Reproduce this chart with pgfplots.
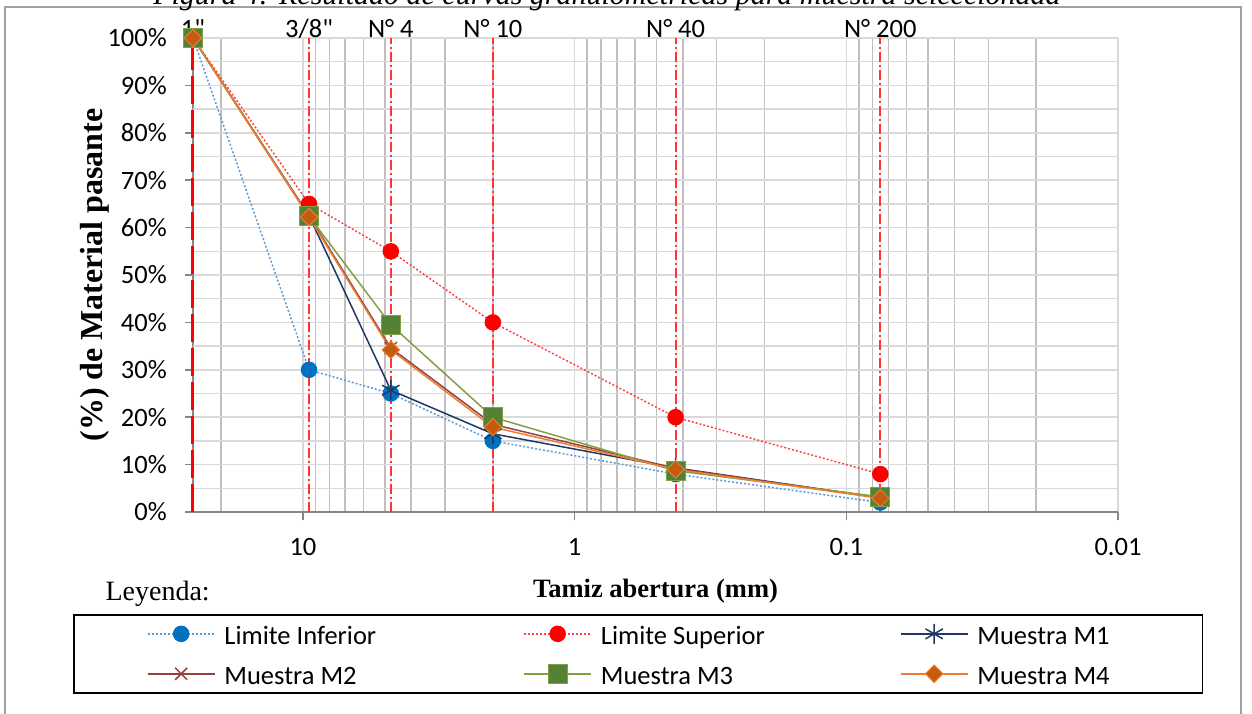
\documentclass[border=0pt]{standalone}
\usepackage{pgfplots}
\pgfplotsset{compat=1.18}
\usepackage{fontspec}
\setmainfont{Carlito}
\newfontfamily\calp{Carlito}
\newfontfamily\tnr{Liberation Serif}

\definecolor{gridlt}{RGB}{217,217,217}
\definecolor{gridmd}{RGB}{191,191,191}
\definecolor{axgray}{RGB}{134,134,134}
\definecolor{framegray}{RGB}{160,160,160}
\definecolor{infline}{RGB}{91,155,213}
\definecolor{infmark}{RGB}{0,112,192}
\definecolor{supline}{RGB}{255,70,70}
\definecolor{m1col}{RGB}{32,56,100}
\definecolor{m2col}{RGB}{150,64,64}
\definecolor{m3line}{RGB}{130,160,70}
\definecolor{m3fill}{RGB}{84,130,53}
\definecolor{m4line}{RGB}{237,125,49}
\definecolor{m4fill}{RGB}{197,90,17}

\newcommand\fs{\fontsize{26.5pt}{32pt}\selectfont}

\begin{document}
\begin{tikzpicture}
\useasboundingbox (0pt,-713pt) rectangle (1252pt,0pt);

% outer frame and clipped caption
\draw[framegray, line width=1.5pt] (5pt,-730pt) -- (5pt,-7pt) -- (1241pt,-7pt) -- (1241pt,-730pt);
\node[font=\tnr\itshape\fontsize{30pt}{36pt}\selectfont, anchor=base] at (607pt,-4pt)
  {Figura 4: Resultado de curvas granulométricas para muestra seleccionada};

\begin{axis}[
  at={(193pt,-512pt)}, anchor=south west,
  scale only axis, width=925pt, height=474pt,
  xmode=log, x dir=reverse,
  xmin=0.01, xmax=25.4, ymin=0, ymax=100,
  axis x line*=bottom, axis y line*=left,
  axis line style={draw=axgray, line width=1.5pt},
  xtick={0.01,0.1,1,10}, xticklabels={0.01,0.1,1,10},
  minor xtick={0.02,0.03,0.04,0.05,0.06,0.07,0.08,0.09,0.2,0.3,0.4,0.5,0.6,0.7,0.8,0.9,2,3,4,5,6,7,8,9,20},
  ytick={0,10,...,100},
  yticklabels={0\%,10\%,20\%,30\%,40\%,50\%,60\%,70\%,80\%,90\%,100\%},
  extra y ticks={5,15,...,95}, extra y tick labels={},
  extra y tick style={major tick length=0pt, grid=major},
  grid=both,
  major grid style={draw=gridlt, line width=1.5pt},
  minor grid style={draw=gridmd, line width=1.5pt},
  tick align=outside, major tick length=8pt, minor tick length=0pt,
  tick style={draw=axgray, line width=1.5pt},
  ticklabel style={font=\fs, inner sep=0pt},
  xticklabel style={yshift=-18pt},
  yticklabel style={xshift=-18pt},
  xlabel={Tamiz abertura (mm)},
  xlabel style={font=\tnr\bfseries\fs, at={(axis description cs:0.5,-0.1814)}, anchor=base},
  ylabel={(\%) de Material pasante},
  ylabel style={font=\tnr\bfseries\fontsize{32pt}{38pt}\selectfont, at={(axis description cs:-0.1059,0.5)}, anchor=center},
  clip=false,
  legend columns=3,
  legend cell align=left,
  legend image code/.code={\draw[mark repeat=2,mark phase=2,#1] plot coordinates {(0pt,0pt) (33.5pt,0pt) (67pt,0pt)};},
  legend style={at={(axis description cs:-0.1297,-0.2152)}, anchor=north west,
    draw=black, line width=1.8pt, font=\fs,
    inner xsep=73pt, inner ysep=7pt, row sep=16pt,
    nodes={inner sep=0pt},
    /tikz/every odd column/.append style={column sep=9pt},
    /tikz/every even column/.append style={column sep=129pt}},
]

% sieve lines
\addplot[red, line width=3pt, dash pattern=on 28pt off 6pt, forget plot] coordinates {(25.4,0) (25.4,100)};
\addplot[red!80, line width=2pt, dash pattern=on 10pt off 3pt on 2pt off 3pt, forget plot] coordinates {(9.5,0) (9.5,100)};
\addplot[red!80, line width=2pt, dash pattern=on 10pt off 3pt on 2pt off 3pt, forget plot] coordinates {(4.75,0) (4.75,100)};
\addplot[red!80, line width=2pt, dash pattern=on 10pt off 3pt on 2pt off 3pt, forget plot] coordinates {(2,0) (2,100)};
\addplot[red!80, line width=2pt, dash pattern=on 10pt off 3pt on 2pt off 3pt, forget plot] coordinates {(0.425,0) (0.425,100)};
\addplot[red!80, line width=2pt, dash pattern=on 10pt off 3pt on 2pt off 3pt, forget plot] coordinates {(0.075,0) (0.075,100)};

\node[font=\calp\fs, anchor=base, yshift=1pt] at (axis cs:25.4,100) {1"};
\node[font=\calp\fs, anchor=base, yshift=1pt] at (axis cs:9.5,100) {3/8"};
\node[font=\fs, anchor=base, yshift=1pt] at (axis cs:4.75,100) {N° 4};
\node[font=\fs, anchor=base, yshift=1pt] at (axis cs:2,100) {N° 10};
\node[font=\fs, anchor=base, yshift=1pt] at (axis cs:0.425,100) {N° 40};
\node[font=\fs, anchor=base, yshift=1pt] at (axis cs:0.075,100) {N° 200};

\addplot[infline, line width=1.5pt, dash pattern=on 2pt off 2pt, mark=*, mark size=7.5pt,
  mark options={solid, fill=infmark, draw=infmark}]
  coordinates {(25.4,100) (9.5,30) (4.75,25) (2,15) (0.425,8) (0.075,2)};
\addlegendentry{\makebox[170pt][l]{\strut Limite Inferior}}

\addplot[supline, line width=1.5pt, dash pattern=on 2pt off 2pt, mark=*, mark size=7.5pt,
  mark options={solid, fill=red, draw=red}]
  coordinates {(25.4,100) (9.5,65) (4.75,55) (2,40) (0.425,20) (0.075,8)};
\addlegendentry{\makebox[170pt][l]{\strut Limite Superior}}

\addplot[m1col, line width=1.5pt, mark=asterisk, mark size=10pt, mark options={solid, line width=1.5pt}]
  coordinates {(25.4,100) (9.5,62.5) (4.75,25.7) (2,16.5) (0.425,9.3) (0.075,3.0)};
\addlegendentry{\makebox[152pt][l]{\strut Muestra M1}}

\addplot[m2col, line width=1.5pt, mark=x, mark size=8.5pt, mark options={solid, line width=1.5pt}]
  coordinates {(25.4,100) (9.5,62.5) (4.75,34.6) (2,18.5) (0.425,9.2) (0.075,3.0)};
\addlegendentry{\makebox[170pt][l]{\strut Muestra M2}}

\addplot[m3line, line width=1.5pt, mark=square*, mark size=9.5pt,
  mark options={solid, fill=m3fill, draw=m3line, line width=1pt}]
  coordinates {(25.4,100) (9.5,62.4) (4.75,39.5) (2,20.0) (0.425,8.7) (0.075,3.2)};
\addlegendentry{\makebox[170pt][l]{\strut Muestra M3}}

\addplot[m4line, line width=1.5pt, mark=diamond*, mark size=8.7pt,
  mark options={solid, fill=m4fill, draw=m4line, line width=1pt, xscale=1.333}]
  coordinates {(25.4,100) (9.5,62.2) (4.75,34.2) (2,17.9) (0.425,9.0) (0.075,2.9)};
\addlegendentry{\makebox[152pt][l]{\strut Muestra M4}}

\end{axis}

\node[font=\tnr\fontsize{28pt}{34pt}\selectfont, anchor=base west] at (102pt,-600pt) {Leyenda:};
\end{tikzpicture}
\end{document}
